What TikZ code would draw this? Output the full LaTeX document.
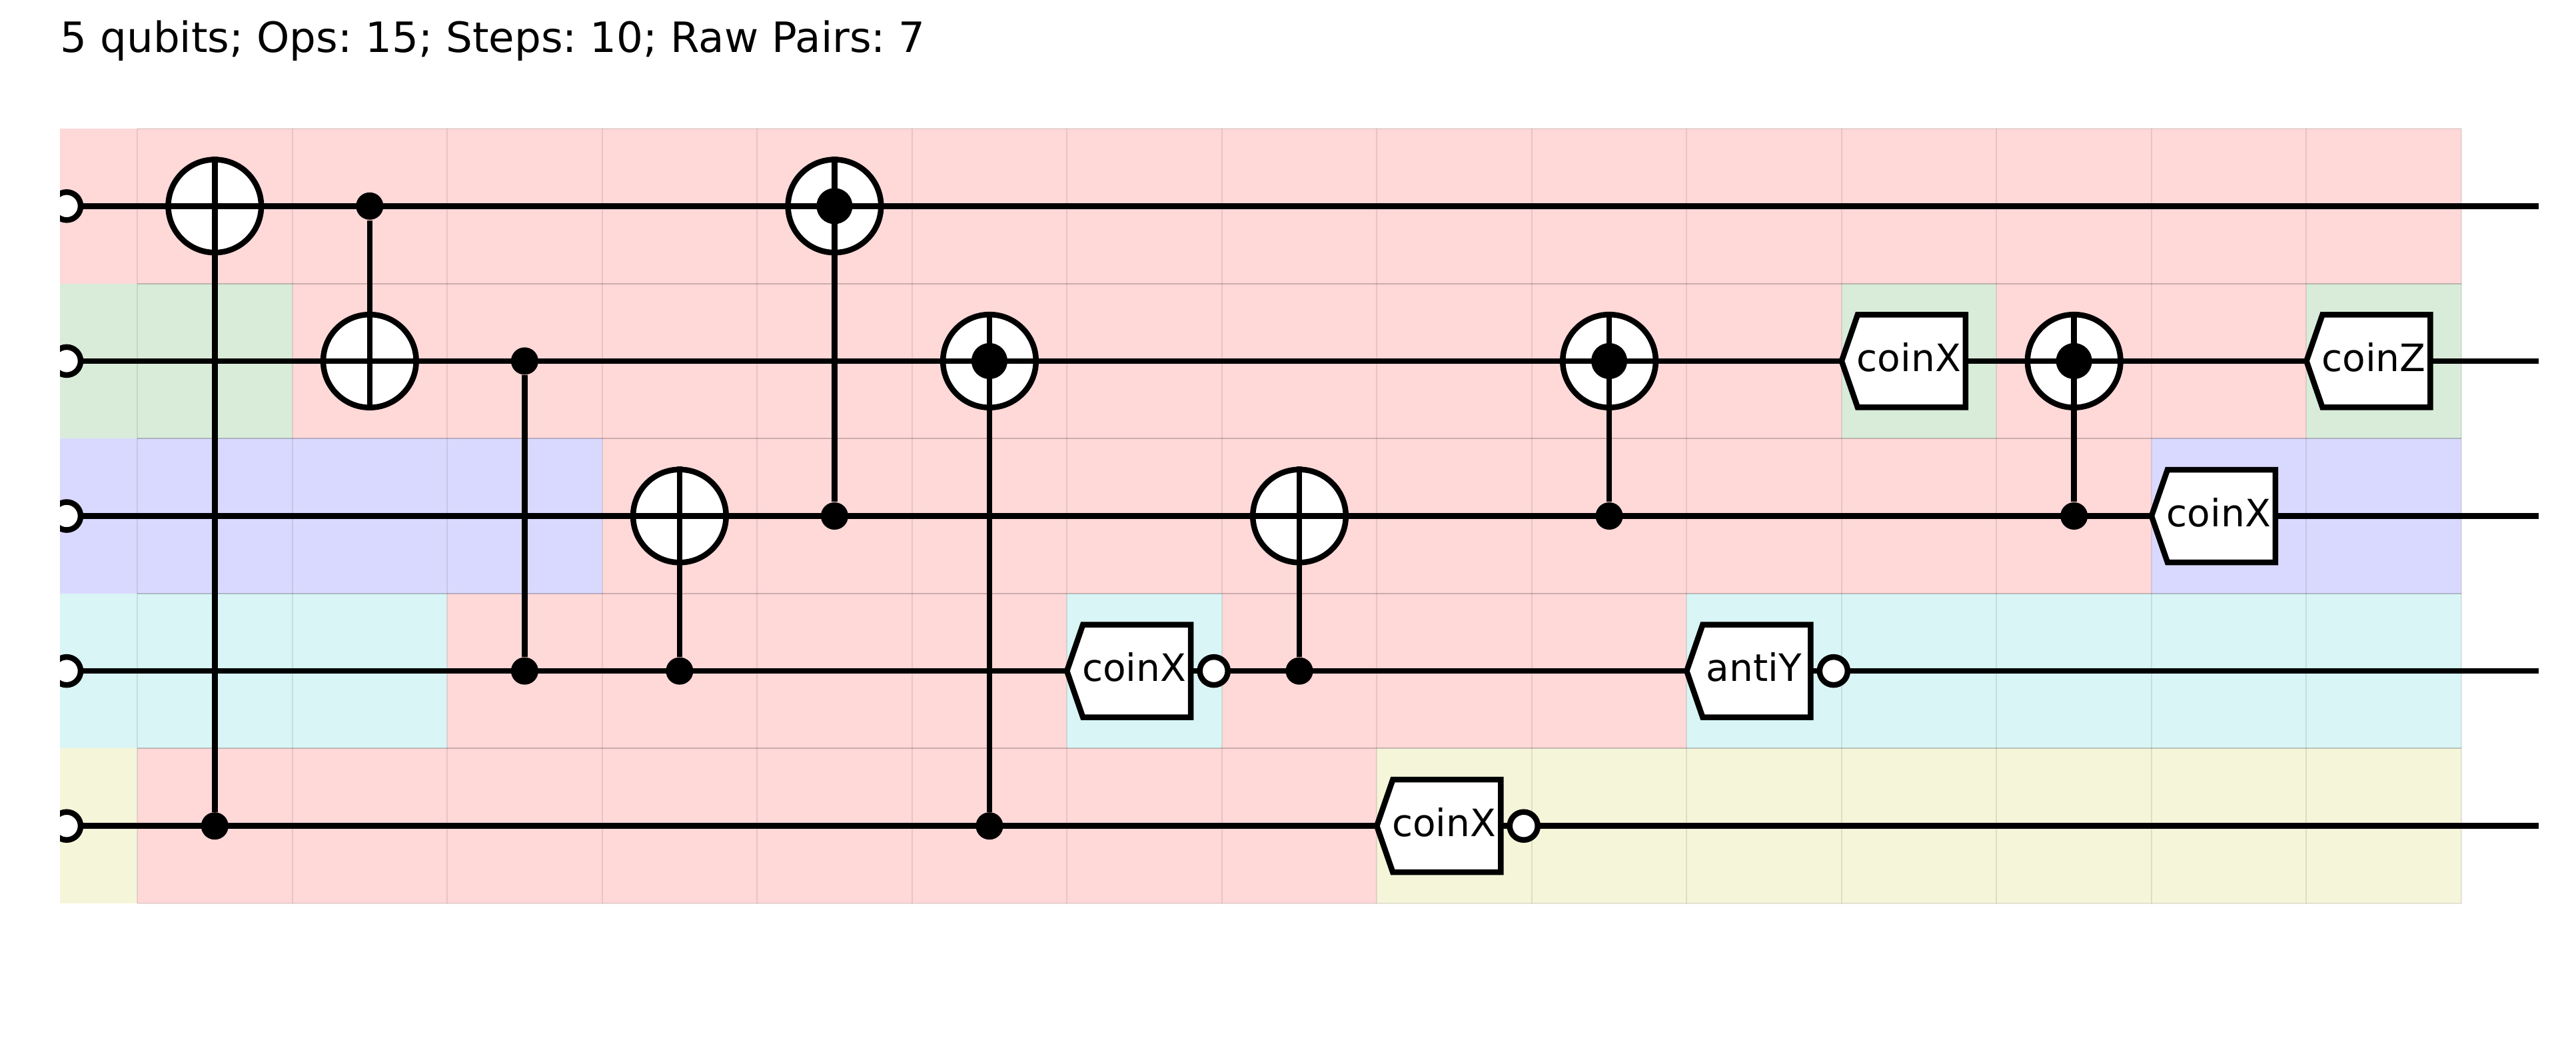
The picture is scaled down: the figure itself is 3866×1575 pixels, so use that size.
\documentclass[tikz,border=0pt]{standalone}
\usepackage{fontspec}
\setmainfont{DejaVu Sans}
\frenchspacing
\definecolor{cr}{RGB}{255,216,216}
\definecolor{cg}{RGB}{217,236,217}
\definecolor{cb}{RGB}{217,217,255}
\definecolor{cc}{RGB}{217,245,245}
\definecolor{cy}{RGB}{245,245,217}
\newcommand{\colx}[1]{206+232.53*#1}
% cell: column, row, colour (column -1 is the half-width first column)
\newcommand{\cell}[3]{%
  \ifnum#1<0
    \fill[#3] (90,{193+232.6*#2}) rectangle (206,{193+232.6*(#2+1)});
  \else
    \fill[#3] ({\colx{#1}},{193+232.6*#2}) rectangle ({\colx{(#1+1)}},{193+232.6*(#2+1)});
  \fi}
\newcommand{\cells}[4]{\foreach \cc in {#1,...,#2}{\cell{\cc}{#3}{#4}}}
\newcommand{\wirey}[1]{309.3+232.6*#1}
\newcommand{\midx}[1]{322.3+232.53*#1}
% target: name, column, row
\newcommand{\target}[3]{%
  \node[targetnode] (#1) at ({\midx{#2}},{\wirey{#3}}) {};
  \draw[wireline] (#1.west) -- (#1.east);
  \draw[wireline] (#1.north) -- (#1.south);}
\newcommand{\dbl}[3]{%
  \target{#1}{#2}{#3}
  \node[innerdot] (#1d) at (#1) {};}
\newcommand{\ctrl}[3]{\node[ctrldot] (#1) at ({\midx{#2}},{\wirey{#3}}) {};}
% gate box: name, column, row, text
\newcommand{\gatebox}[4]{%
  \coordinate (#1a) at ({\colx{#2}},{\wirey{#3}});
  \filldraw[wireline,fill=white,miter limit=10]
    (#1a) -- ++(24,-69.5) -- ++(162,0) -- ++(0,139) -- ++(-162,0) -- cycle;
  \node[gatetext] (#1) at ([shift={(101,15.6)}]#1a) {#4};}
\newcommand{\negc}[3]{\node[negnode] (#1) at ({\colx{#2}+220.5},{\wirey{#3}}) {};}
\tikzset{x=0.01cm,y=-0.01cm,
  gridv/.style={draw=black,draw opacity=0.09,line width=0.02cm},
  gridh/.style={draw=black,draw opacity=0.2,line width=0.02cm},
  wireline/.style={draw=black,line width=0.085cm},
  startnode/.style={circle,draw=black,fill=white,line width=0.085cm,inner sep=0pt,minimum size=0.42cm},
  negnode/.style={circle,draw=black,fill=white,line width=0.085cm,inner sep=0pt,minimum size=0.42cm},
  targetnode/.style={circle,draw=black,fill=white,line width=0.085cm,inner sep=0pt,minimum size=1.395cm},
  ctrldot/.style={circle,fill=black,inner sep=0pt,minimum size=0.41cm},
  innerdot/.style={circle,fill=black,inner sep=0pt,minimum size=0.54cm},
  gatetext/.style={anchor=base,inner sep=0pt,font=\fontsize{16.1}{16.1}\selectfont},
  titletext/.style={anchor=base west,inner sep=0pt,font=\fontsize{17.83}{18}\selectfont}
}
\begin{document}
\begin{tikzpicture}
\useasboundingbox (0,0) rectangle (3866,1575);
\node[titletext] (title) at (90,78) {5 qubits; Ops: 15; Steps: 10; Raw Pairs: 7};
% backgrounds, row by row
\cells{0}{14}{0}{cr}\cell{-1}{0}{cr}
\cells{0}{0}{1}{cg}\cell{-1}{1}{cg}\cells{1}{10}{1}{cr}\cell{11}{1}{cg}\cells{12}{13}{1}{cr}\cell{14}{1}{cg}
\cells{0}{2}{2}{cb}\cell{-1}{2}{cb}\cells{3}{12}{2}{cr}\cells{13}{14}{2}{cb}
\cells{0}{1}{3}{cc}\cell{-1}{3}{cc}\cells{2}{5}{3}{cr}\cell{6}{3}{cc}\cells{7}{9}{3}{cr}\cells{10}{14}{3}{cc}
\cells{0}{7}{4}{cr}\cell{-1}{4}{cy}\cells{8}{14}{4}{cy}
% grid lines
\foreach \c in {0,...,15}{\draw[gridv] ({\colx{\c}},193) -- ({\colx{\c}},1356);}
\foreach \r in {0,5}{\draw[gridv] (206,{193+232.6*\r}) -- (3694,{193+232.6*\r});}
\foreach \r in {1,2,3,4}{\draw[gridh] (206,{193+232.6*\r}) -- (3694,{193+232.6*\r});}
% wire starts and wires
\begin{scope}
\clip (90,0) rectangle (3866,1575);
\foreach \q in {0,...,4}{
  \node[startnode] (s\q) at (100,{\wirey{\q}}) {};
  \coordinate (e\q) at (3810,{\wirey{\q}});
  \draw[wireline] (s\q) -- (e\q);
}
\end{scope}
% column 0
\target{t0}{0}{0}\ctrl{c0}{0}{4}\draw[wireline] (t0) -- (c0);
% column 1
\ctrl{c1}{1}{0}\target{t1}{1}{1}\draw[wireline] (c1) -- (t1);
% column 2
\ctrl{c2a}{2}{1}\ctrl{c2b}{2}{3}\draw[wireline] (c2a) -- (c2b);
% column 3
\target{t3}{3}{2}\ctrl{c3}{3}{3}\draw[wireline] (t3) -- (c3);
% column 4
\dbl{t4}{4}{0}\ctrl{c4}{4}{2}\draw[wireline] (t4) -- (c4);
% column 5
\dbl{t5}{5}{1}\ctrl{c5}{5}{4}\draw[wireline] (t5) -- (c5);
% column 6
\gatebox{g6}{6}{3}{coinX}\negc{n6}{6}{3}
% column 7
\target{t7}{7}{2}\ctrl{c7}{7}{3}\draw[wireline] (t7) -- (c7);
% column 8
\gatebox{g8}{8}{4}{coinX}\negc{n8}{8}{4}
% column 9
\dbl{t9}{9}{1}\ctrl{c9}{9}{2}\draw[wireline] (t9) -- (c9);
% column 10
\gatebox{g10}{10}{3}{antiY}\negc{n10}{10}{3}
% column 11
\gatebox{g11}{11}{1}{coinX}
% column 12
\dbl{t12}{12}{1}\ctrl{c12}{12}{2}\draw[wireline] (t12) -- (c12);
% column 13
\gatebox{g13}{13}{2}{coinX}
% column 14
\gatebox{g14}{14}{1}{coinZ}
\end{tikzpicture}
\end{document}
